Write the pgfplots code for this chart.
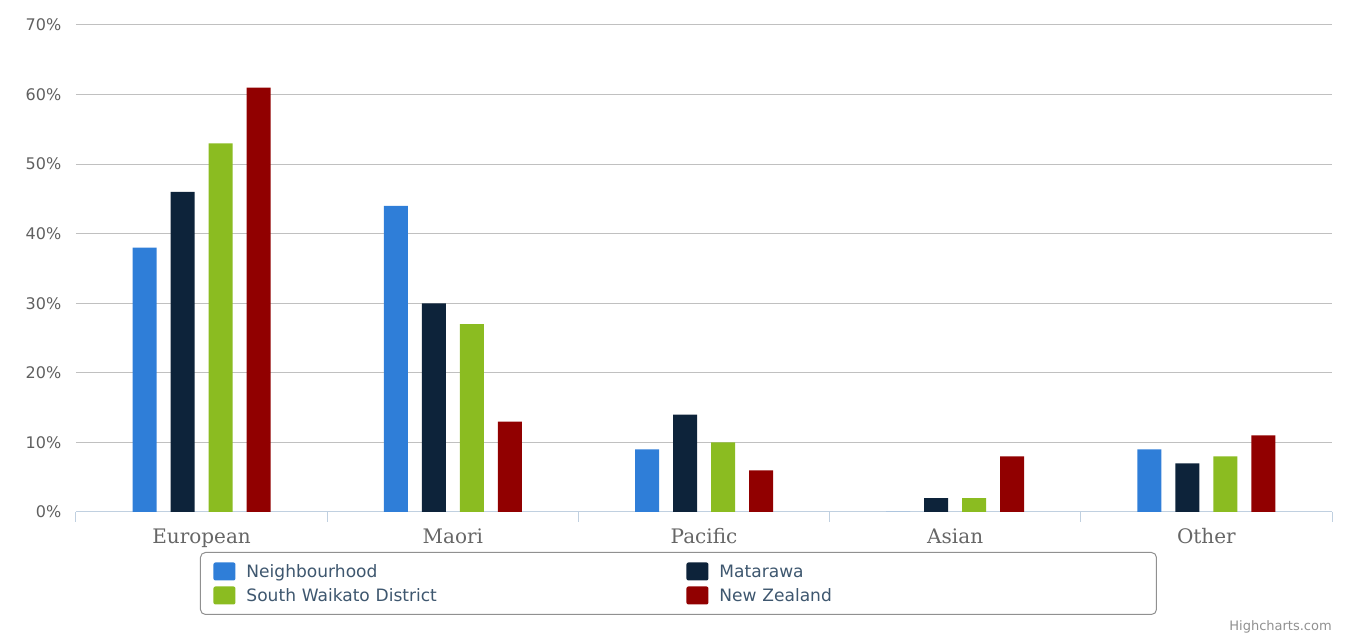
\documentclass[border=0pt]{standalone}
\usepackage{fontspec}
\setmainfont{DejaVu Sans}
\newfontfamily\catfont{DejaVu Serif}
\usepackage{pgfplots}
\pgfplotsset{compat=1.18}

\definecolor{hcblue}{HTML}{2F7ED8}
\definecolor{hcdark}{HTML}{0D233A}
\definecolor{hcgreen}{HTML}{8BBC21}
\definecolor{hcred}{HTML}{910000}
\definecolor{gridgray}{HTML}{C0C0C0}
\definecolor{axisblue}{HTML}{C0D0E0}
\definecolor{cattext}{HTML}{666666}
\definecolor{ytext}{HTML}{606060}
\definecolor{legtext}{HTML}{3E576F}
\definecolor{legborder}{HTML}{909090}

\pgfplotsset{
  hcleg/.style={legend image code/.code={
      \fill[##1, draw=none, rounded corners=1.5pt] (0pt,-2.25pt) rectangle (16.5pt,11.25pt);}}
}

\begin{document}
\begin{tikzpicture}
\useasboundingbox (0,0) rectangle (1009.5pt,475.5pt);
\begin{axis}[
  at={(57pt,91.5pt)}, anchor=south west,
  scale only axis, width=942pt, height=365.25pt,
  ybar=10.5pt, bar width=18pt,
  xmin=-0.5, xmax=4.5, ymin=0, ymax=70,
  xtick={-0.5,0.5,...,4.5},
  x tick label as interval,
  xticklabels={European,Maori,Pacific,Asian,Other},
  ytick={0,10,...,70},
  yticklabel={\pgfmathprintnumber{\tick}\%},
  /pgf/number format/assume math mode=true,
  axis x line*=bottom, axis y line*=left,
  x axis line style={axisblue, line width=0.75pt, -},
  y axis line style={draw=none},
  tick align=outside, major tick length=7.5pt,
  x tick style={axisblue, line width=0.75pt},
  y tick style={draw=none},
  ymajorgrids, major grid style={gridgray, line width=0.75pt},
  xticklabel style={font=\catfont\fontsize{15}{18}\selectfont, text=cattext, yshift=-1.5pt},
  yticklabel style={font=\fontsize{12}{14}\selectfont, text=ytext},
  legend columns=2,
  legend cell align=left,
  legend style={at={(0.0987,-0.0821)}, anchor=north west,
    draw=legborder, line width=0.75pt, rounded corners=3.75pt,
    inner xsep=9.75pt, inner ysep=7.5pt, row sep=4.5pt, column sep=0pt,
    font=\fontsize{12.8}{14}\selectfont, text=legtext,
    nodes={inner sep=0pt, anchor=base west, text width=318pt, align=left,
      text height=11.25pt, text depth=2.25pt},
    /tikz/every odd column/.append style={column sep=8.25pt},
    /tikz/every even column/.append style={column sep=12pt}},
]
\addplot[fill=hcblue, draw=none, hcleg] coordinates {(0,38) (1,44) (2,9) (3,0) (4,9)};
\addlegendentry{Neighbourhood}
\addplot[fill=hcdark, draw=none, hcleg] coordinates {(0,46) (1,30) (2,14) (3,2) (4,7)};
\addlegendentry{Matarawa}
\addplot[fill=hcgreen, draw=none, hcleg] coordinates {(0,53) (1,27) (2,10) (3,2) (4,8)};
\addlegendentry{South Waikato District}
\addplot[fill=hcred, draw=none, hcleg] coordinates {(0,61) (1,13) (2,6) (3,8) (4,11)};
\addlegendentry{New Zealand}
\end{axis}
\node[anchor=base east, inner sep=0pt, font=\fontsize{9.75}{11}\selectfont, text=legborder] at (999pt,2.25pt) {Highcharts.com};
\end{tikzpicture}
\end{document}
